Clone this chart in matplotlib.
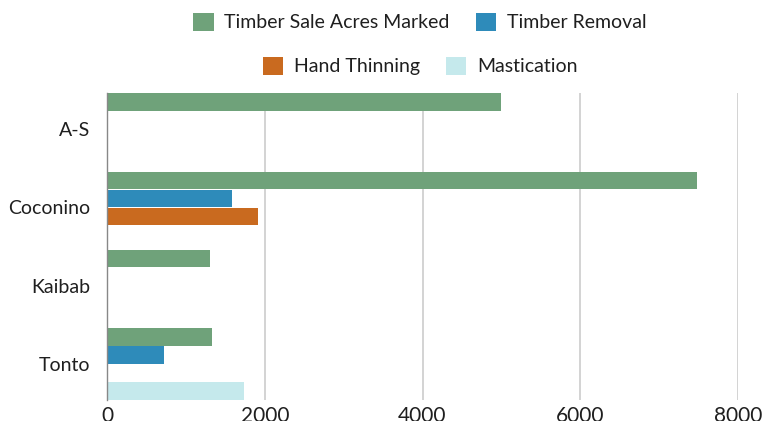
import numpy as np
import matplotlib.pyplot as plt
from matplotlib.patches import Patch

# Data
forests = ["A-S", "Coconino", "Kaibab", "Tonto"]
timber_sale = [4990, 7480, 1305, 1325]
timber_removal = [0, 1590, 0, 718]
hand_thinning = [0, 1920, 0, 0]
mastication = [0, 0, 0, 1735]

series_names = ["Timber Sale Acres Marked", "Timber Removal", "Hand Thinning", "Mastication"]
colors = ["#6FA27A", "#2E8BBA", "#C96A1F", "#C5E9EC"]

plt.rcParams['font.family'] = ['Lato', 'DejaVu Sans']
FS = 14
TXT = "#1f1f1f"

fig = plt.figure(figsize=(7.71, 4.21), dpi=100)
ax = fig.add_axes([107 / 771, 21 / 421, (738 - 107) / 771, (400 - 93) / 421])

y = np.arange(len(forests))
h = 0.23
offsets = [-1.5 * h, -0.5 * h, 0.5 * h, 1.5 * h]
for vals, off, c in zip([timber_sale, timber_removal, hand_thinning, mastication], offsets, colors):
    vals = np.array(vals, dtype=float)
    mask = vals > 0
    ax.barh(y[mask] + off, vals[mask], height=h * 0.96, color=c, zorder=3)

ax.set_xlim(0, 8000)
ax.set_ylim(3.46, -0.46)
ax.set_xticks([0, 2000, 4000, 6000, 8000])
ax.set_yticks(y)
ax.set_yticklabels(forests)
ax.tick_params(axis='both', length=0, labelsize=FS, colors=TXT)
ax.tick_params(axis='x', labelsize=15)
ax.tick_params(axis='y', pad=12)
ax.tick_params(axis='x', pad=4)
ax.grid(axis='x', color="#cccccc", linewidth=1.2, zorder=0)
for s in ['top', 'right', 'bottom']:
    ax.spines[s].set_visible(False)
ax.spines['left'].set_color("#888888")
ax.spines['left'].set_linewidth(1.0)
ax.spines['left'].set_zorder(4)

handles = [Patch(facecolor=c, edgecolor='none') for c in colors]
leg_kw = dict(frameon=False, fontsize=FS, handlelength=1.05, handleheight=1.05,
              handletextpad=0.55, columnspacing=1.35, ncol=2, labelcolor=TXT,
              borderaxespad=0, borderpad=0)
leg1 = fig.legend(handles[:2], series_names[:2], loc='center',
                  bbox_to_anchor=(420 / 771, 1 - 22 / 421), **leg_kw)
leg2 = fig.legend(handles[2:], series_names[2:], loc='center',
                  bbox_to_anchor=(420 / 771, 1 - 66 / 421), **leg_kw)

fig.savefig("out.png", dpi=100)
